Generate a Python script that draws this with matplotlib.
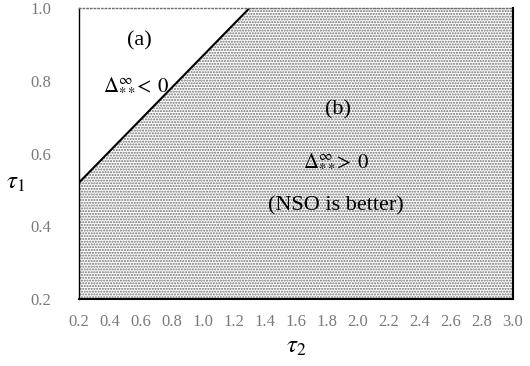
import numpy as np
import matplotlib
matplotlib.use("Agg")
import matplotlib.pyplot as plt

plt.rcParams['font.family'] = ['Liberation Serif', 'DejaVu Serif']
plt.rcParams['mathtext.fontset'] = 'stix'
plt.rcParams['hatch.linewidth'] = 1.0

# boundary between region (a) and region (b): tau1 as a function of tau2
boundary_tau2 = [0.2, 1.3]
boundary_tau1 = [0.52, 1.0]

x_ticks = [0.2, 0.4, 0.6, 0.8, 1.0, 1.2, 1.4, 1.6, 1.8, 2.0, 2.2, 2.4, 2.6, 2.8, 3.0]
y_ticks = [0.2, 0.4, 0.6, 0.8, 1.0]

fig = plt.figure(figsize=(5.3, 3.66), dpi=100)
ax = fig.add_axes([0.149, 0.183, 0.819, 0.795])

# region (b): everything below the boundary, dotted fill
bx = [boundary_tau2[0], boundary_tau2[1], x_ticks[-1], x_ticks[-1], x_ticks[0]]
by = [boundary_tau1[0], boundary_tau1[1], y_ticks[-1], y_ticks[0], y_ticks[0]]
ax.fill(bx, by, facecolor='white', edgecolor='#6e6e6e', hatch='......', linewidth=0)
ax.plot(boundary_tau2, boundary_tau1, color='black', linewidth=1.5)

fs = 16
ax.text(0.587, 0.909, '(a)', fontsize=fs, ha='center', va='center')
ax.text(0.57, 0.791, r'$\Delta_{**}^{\infty}\!\!<\;0$', fontsize=15, ha='center', va='center')
ax.text(1.87, 0.72, '(b)', fontsize=fs, ha='center', va='center')
ax.text(1.86, 0.582, r'$\Delta_{**}^{\infty}\!\!>\;0$', fontsize=15, ha='center', va='center')
ax.text(1.86, 0.456, '(NSO is better)', fontsize=fs, ha='center', va='center')

ax.set_xlim(x_ticks[0], x_ticks[-1])
ax.set_ylim(y_ticks[0], y_ticks[-1])
ax.set_xticks(x_ticks)
ax.set_yticks(y_ticks)
ax.set_xticklabels([f'{v:.1f}' for v in x_ticks])
ax.set_yticklabels([f'{v:.1f}' for v in y_ticks])
ax.tick_params(length=0, labelsize=12, labelcolor='#7a7a7a', pad=11)
ax.tick_params(axis='y', pad=20)

ax.set_xlabel(r'$\tau_2$', fontsize=18, labelpad=4)
ax.set_ylabel(r'$\tau_1$', fontsize=18, rotation=0, va='center', ha='center')
ax.yaxis.set_label_coords(-0.145, 0.40)

ax.spines['left'].set_linewidth(1.0)
ax.spines['bottom'].set_linewidth(1.5)
ax.spines['right'].set_linewidth(1.5)
ax.spines['top'].set_linewidth(1.0)
ax.spines['top'].set_linestyle(':')
ax.spines['top'].set_color('#6e6e6e')

fig.savefig('out.png', dpi=100)
